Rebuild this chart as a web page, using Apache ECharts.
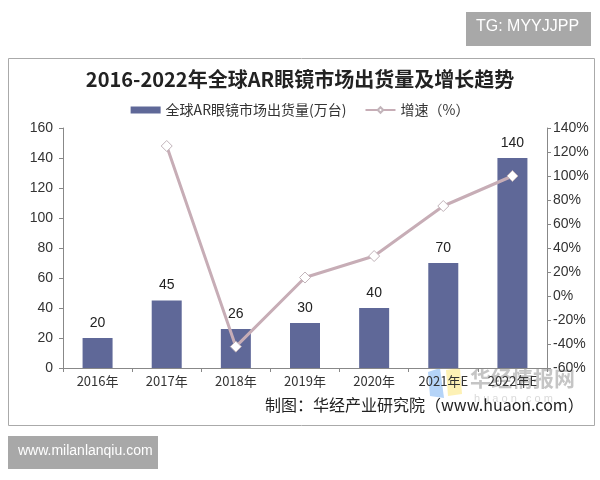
<!DOCTYPE html>
<html>
<head>
<meta charset="utf-8">
<script src="https://cdn.jsdelivr.net/npm/echarts@6/dist/echarts.min.js"></script>
<style>
  html, body { margin: 0; padding: 0; background: #fff; }
  #chart { width: 600px; height: 480px; }
</style>
</head>
<body>
<div id="chart"></div>
<script>
var years = ['2016年', '2017年', '2018年', '2019年', '2020年', '2021年E', '2022年E'];
var shipments = [20, 45, 26, 30, 40, 70, 140];
var growth = [null, 125, -42.2, 15.4, 33.3, 75, 100];
var leftTicks = [0, 160, 20];
var rightTicks = [-60, 140, 20];

var CJK = '"Noto Sans CJK SC", "Noto Sans", sans-serif';
var LATIN = 'Arial, "Liberation Sans", sans-serif';

var chart = echarts.init(document.getElementById('chart'));

chart.setOption({
    backgroundColor: '#fff',
    animation: false,
    title: {
        text: '2016-2022年全球AR眼镜市场出货量及增长趋势',
        left: 'center',
        top: 64,
        textStyle: {
            color: '#222',
            fontSize: 20,
            fontWeight: 'bold',
            fontFamily: CJK
        }
    },
    legend: {
        top: 98,
        left: 'center',
        itemGap: 18,
        itemWidth: 30,
        itemHeight: 7,
        textStyle: { color: '#333', fontSize: 14, fontFamily: CJK },
        data: [
            { name: '全球AR眼镜市场出货量(万台)', icon: 'rect' },
            { name: '增速（%）' }
        ]
    },
    grid: {
        left: 63,
        right: 53,
        top: 128,
        bottom: 112
    },
    xAxis: {
        type: 'category',
        data: years,
        axisLine: { lineStyle: { color: '#888' } },
        axisTick: { show: true, length: 4, lineStyle: { color: '#888' } },
        axisLabel: { color: '#333', fontSize: 13, fontFamily: CJK, margin: 7 }
    },
    yAxis: [
        {
            type: 'value',
            min: leftTicks[0],
            max: leftTicks[1],
            interval: leftTicks[2],
            splitLine: { show: false },
            axisLine: { show: true, lineStyle: { color: '#888' } },
            axisTick: { show: true, length: 4, lineStyle: { color: '#888' } },
            axisLabel: { color: '#333', fontSize: 14, fontFamily: LATIN, margin: 10 }
        },
        {
            type: 'value',
            min: rightTicks[0],
            max: rightTicks[1],
            interval: rightTicks[2],
            splitLine: { show: false },
            axisLine: { show: true, lineStyle: { color: '#888' } },
            axisTick: { show: true, length: 4, lineStyle: { color: '#888' } },
            axisLabel: {
                color: '#333',
                fontSize: 14,
                fontFamily: LATIN,
                margin: 6,
                formatter: '{value}%'
            }
        }
    ],
    series: [
        {
            name: '全球AR眼镜市场出货量(万台)',
            type: 'bar',
            data: shipments,
            barWidth: 30,
            itemStyle: { color: '#5f6898' },
            label: {
                show: true,
                position: 'top',
                distance: 8,
                color: '#222',
                fontSize: 14,
                fontFamily: LATIN
            }
        },
        {
            name: '增速（%）',
            type: 'line',
            yAxisIndex: 1,
            data: growth,
            symbol: 'diamond',
            symbolSize: 11,
            lineStyle: { color: '#c7adb6', width: 3 },
            itemStyle: { color: '#fff', borderColor: '#c2b4ba', borderWidth: 1 },
            z: 5
        }
    ],
    graphic: [
        {
            type: 'rect',
            shape: { x: 8.5, y: 58.5, width: 586, height: 367 },
            style: { fill: 'none', stroke: '#aaa', lineWidth: 1 },
            silent: true,
            z: -1
        },
        {
            type: 'rect',
            shape: { x: 466, y: 12, width: 125, height: 34 },
            style: { fill: '#a8a8a8' },
            silent: true
        },
        {
            type: 'text',
            left: 476,
            top: 19,
            style: {
                text: 'TG: MYYJJPP',
                fill: '#fff',
                fontSize: 16,
                fontFamily: LATIN
            }
        },
        {
            type: 'rect',
            shape: { x: 8, y: 436, width: 150, height: 33 },
            style: { fill: '#a8a8a8' },
            silent: true
        },
        {
            type: 'text',
            left: 18,
            top: 444,
            style: {
                text: 'www.milanlanqiu.com',
                fill: '#fff',
                fontSize: 14,
                fontFamily: LATIN
            }
        },
        // watermark logo
        {
            type: 'polygon',
            shape: { points: [[428, 372], [440, 368], [444, 398], [430, 396]] },
            style: { fill: 'rgba(90,160,240,0.45)' },
            silent: true
        },
        {
            type: 'polygon',
            shape: { points: [[446, 370], [460, 368], [462, 394], [448, 396]] },
            style: { fill: 'rgba(250,225,90,0.45)' },
            silent: true
        },
        {
            type: 'text',
            left: 470,
            top: 368,
            style: {
                text: '华经情报网',
                fill: 'rgba(140,140,140,0.5)',
                fontSize: 21,
                fontWeight: 'bold',
                fontFamily: CJK
            }
        },
        {
            type: 'text',
            left: 474,
            top: 393,
            style: {
                text: 'h u a o n . c o m',
                fill: 'rgba(170,170,170,0.45)',
                fontSize: 11,
                fontFamily: LATIN
            }
        },
        {
            type: 'text',
            left: 265,
            top: 397,
            style: {
                text: '制图：华经产业研究院（www.huaon.com）',
                fill: '#222',
                fontSize: 16,
                fontFamily: CJK
            }
        }
    ]
});
</script>
</body>
</html>
